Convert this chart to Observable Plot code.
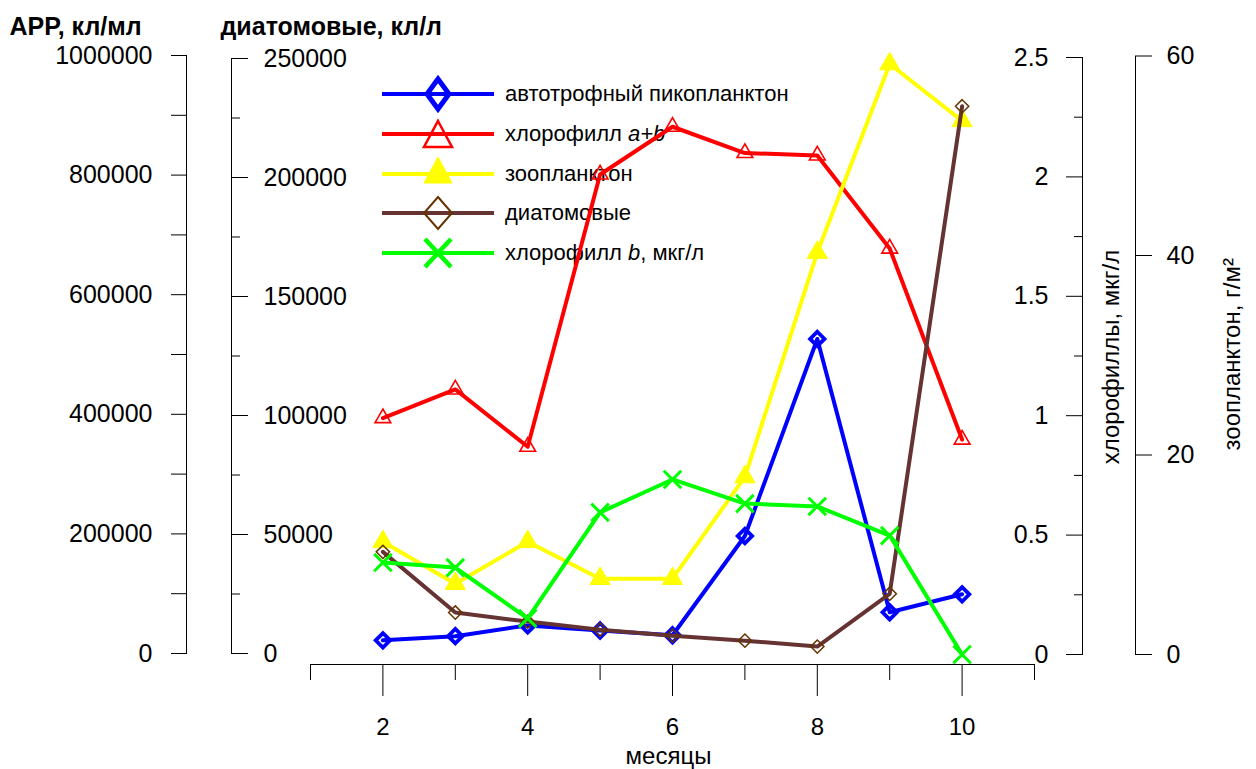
<!DOCTYPE html>
<html>
<head>
<meta charset="utf-8">
<script src="https://cdn.jsdelivr.net/npm/d3@7"></script>
<script src="https://cdn.jsdelivr.net/npm/@observablehq/plot@0.6"></script>
<style>
  body { margin: 0; background: #fff; font-family: "Liberation Sans", Arial, sans-serif; }
  #chart { position: relative; width: 1256px; height: 769px; overflow: hidden; }
  #chart svg.plot-layer { position: absolute; left: 0; top: 0; }
  .legend-row { position: absolute; left: 382px; height: 40px; display: flex; align-items: center; }
  .legend-row svg { display: block; }
  .legend-row span { margin-left: 11px; font-size: 22px; color: #000; white-space: nowrap; }
</style>
</head>
<body>
<div id="chart"></div>
<script>
// Monthly observations (months 2–10)
const months = [2, 3, 4, 5, 6, 7, 8, 9, 10];
const picoplankton = [22000, 29000, 47000, 38500, 30500, 196500, 526000, 69000, 99000]; // APP, кл/мл
const chlorophyllAB = [0.99, 1.11, 0.87, 2.01, 2.21, 2.10, 2.09, 1.70, 0.90];          // мкг/л
const zooplankton = [11.3, 7.1, 11.3, 7.6, 7.6, 17.8, 40.3, 59.2, 53.5];                // г/м²
const diatoms = [42700, 17200, 13400, 10000, 7500, 5400, 2900, 25100, 229900];          // кл/л
const chlorophyllB = [0.385, 0.364, 0.151, 0.595, 0.733, 0.632, 0.62, 0.498, 0.0];      // мкг/л

// Axis ticks
const monthMajor = [2, 4, 6, 8, 10];
const monthMinor = [1, 3, 5, 7, 9, 11];
const appTicks = [0, 200000, 400000, 600000, 800000, 1000000];
const appMinor = [100000, 300000, 500000, 700000, 900000];
const diatomTicks = [0, 50000, 100000, 150000, 200000, 250000];
const diatomMinor = [25000, 75000, 125000, 175000, 225000];
const chlTicks = [0, 0.5, 1, 1.5, 2, 2.5];
const chlMinor = [0.25, 0.75, 1.25, 1.75, 2.25];
const zooTicks = [0, 20, 40, 60];

// Labels
const xTitle = "месяцы";
const appTitle = "APP, кл/мл";
const diatomTitle = "диатомовые, кл/л";
const chlTitle = "хлорофиллы, мкг/л";
const zooTitle = "зоопланктон, г/м²";

const W = 1256, H = 769;
const X = {domain: [1, 11], range: [310, 1034]};
const FONT = "'Liberation Sans', Arial, sans-serif";
const chart = document.getElementById("chart");
const num = (d) => String(d);
const blank = () => "";
const rows = (values) => months.map((month, i) => ({month, value: values[i]}));

function layer({y, marks, ...margins}) {
  const opts = {
    width: W, height: H, ...margins,
    x: {...X, axis: null, label: null},
    style: {fontFamily: FONT, fontSize: "25px", background: "transparent", color: "#000", overflow: "visible"},
    marks
  };
  if (y) opts.y = {...y, axis: null, label: null};
  const svg = Plot.plot(opts);
  svg.classList.add("plot-layer");
  chart.append(svg);
}

function series(values, lineColor, dot) {
  const data = rows(values);
  return [
    Plot.line(data, {x: "month", y: "value", stroke: lineColor, strokeWidth: 4, strokeLinejoin: "round", strokeLinecap: "round"}),
    Plot.dot(data, {x: "month", y: "value", ...dot})
  ];
}

// Legend (drawn beneath the plotted lines)
const legendItems = [
  {html: "автотрофный пикопланктон", line: "#0000ff",
   marker: '<path d="M0,-15L11,0L0,15L-11,0Z" fill="none" stroke="#0000ff" stroke-width="5" stroke-linejoin="miter"/>'},
  {html: "хлорофилл <i>a+b</i>", line: "#ff0000",
   marker: '<path d="M0,-13L14,13L-14,13Z" fill="none" stroke="#ff0000" stroke-width="2.5"/>'},
  {html: "зоопланктон", line: "#ffff00",
   marker: '<path d="M0,-17L14,9L-14,9Z" fill="#ffff00" stroke="#ffff00" stroke-width="1"/>'},
  {html: "диатомовые", line: "#663333",
   marker: '<path d="M0,-16L14,0L0,16L-14,0Z" fill="none" stroke="#663300" stroke-width="2"/>'},
  {html: "хлорофилл <i>b</i>, мкг/л", line: "#00ff00",
   marker: '<path d="M-13,-14L13,14M13,-14L-13,14" fill="none" stroke="#00ff00" stroke-width="4.5"/>'}
];
const legendTop = 94, legendStep = 39.8;
legendItems.forEach((item, i) => {
  const row = document.createElement("div");
  row.className = "legend-row";
  row.style.top = (legendTop + i * legendStep - 20) + "px";
  row.innerHTML =
    `<svg width="112" height="40" viewBox="0 0 112 40">` +
    `<line x1="0" x2="112" y1="20" y2="20" stroke="${item.line}" stroke-width="4" stroke-linecap="round"/>` +
    `<g transform="translate(56,20)">${item.marker}</g></svg>` +
    `<span>${item.html}</span>`;
  chart.append(row);
});

// Month axis, offset below the data area
layer({
  marginLeft: 310, marginRight: 222, marginTop: 55, marginBottom: 105,
  marks: [
    Plot.frame({anchor: "bottom"}),
    Plot.axisX(monthMinor, {anchor: "bottom", tickSize: 16, tickFormat: blank, label: null}),
    Plot.axisX(monthMajor, {anchor: "bottom", tickSize: 32, tickPadding: 21, tickFormat: num, label: null, fontSize: 24}),
    Plot.text([xTitle], {frameAnchor: "bottom", textAnchor: "middle", dx: -4, dy: 92, lineAnchor: "middle", fontSize: 24})
  ]
});

// Autotrophic picoplankton on the outer left axis
layer({
  marginLeft: 186, marginRight: 222, marginTop: 55, marginBottom: 116,
  y: {domain: [0, 1000000]},
  marks: [
    Plot.frame({anchor: "left"}),
    Plot.axisY(appMinor, {anchor: "left", tickSize: 15, tickFormat: blank, label: null}),
    Plot.axisY(appTicks, {anchor: "left", tickSize: 15, tickPadding: 19, tickFormat: num, label: null}),
    Plot.text([appTitle], {frameAnchor: "top-left", textAnchor: "start", lineAnchor: "middle", dx: -177, dy: -29, fontWeight: "bold", fontSize: 25}),
    ...series(picoplankton, "#0000ff", {symbol: "diamond2", r: 6.5, stroke: "#0000ff", strokeWidth: 3.8, fill: "none"})
  ]
});

// Chlorophyll a+b on the inner right axis
layer({
  marginLeft: 1082, marginRight: 0, marginTop: 57, marginBottom: 115,
  y: {domain: [0, 2.5]},
  marks: [
    Plot.frame({anchor: "left"}),
    Plot.axisY(chlMinor, {anchor: "left", tickSize: 8, tickFormat: blank, label: null}),
    Plot.axisY(chlTicks, {anchor: "left", tickSize: 16, tickPadding: 18, tickFormat: num, label: null}),
    Plot.text([chlTitle], {frameAnchor: "left", textAnchor: "middle", lineAnchor: "middle", rotate: -90, dx: 29, dy: 1, fontSize: 24}),
    ...series(chlorophyllAB, "#ff0000", {symbol: "triangle2", r: 7.5, stroke: "#ff0000", strokeWidth: 1.6, fill: "none"})
  ]
});

// Zooplankton on the outer right axis
layer({
  marginLeft: 0, marginRight: 121, marginTop: 55.5, marginBottom: 115,
  y: {domain: [0, 60]},
  marks: [
    Plot.frame({anchor: "right"}),
    Plot.axisY(zooTicks, {anchor: "right", tickSize: 16, tickPadding: 15, tickFormat: num, label: null}),
    Plot.text([zooTitle], {frameAnchor: "right", textAnchor: "middle", lineAnchor: "middle", rotate: -90, dx: 97, dy: -1, fontSize: 24}),
    ...series(zooplankton, "#ffff00", {symbol: "triangle", r: 7.5, fill: "#ffff00", stroke: "#ffff00", strokeWidth: 1})
  ]
});

// Diatoms on the inner left axis
layer({
  marginLeft: 0, marginRight: 1025, marginTop: 58, marginBottom: 116,
  y: {domain: [0, 250000]},
  marks: [
    Plot.frame({anchor: "right"}),
    Plot.axisY(diatomMinor, {anchor: "right", tickSize: 8, tickFormat: blank, label: null}),
    Plot.axisY(diatomTicks, {anchor: "right", tickSize: 16, tickPadding: 16, tickFormat: num, label: null}),
    Plot.text([diatomTitle], {frameAnchor: "top-right", textAnchor: "start", lineAnchor: "middle", dx: -11, dy: -32, fontWeight: "bold", fontSize: 25}),
    ...series(diatoms, "#663333", {symbol: "diamond2", r: 6, stroke: "#663300", strokeWidth: 1.5, fill: "none"})
  ]
});

// Chlorophyll b shares the chlorophyll axis
layer({
  marginLeft: 1082, marginRight: 0, marginTop: 57, marginBottom: 115,
  y: {domain: [0, 2.5]},
  marks: [
    ...series(chlorophyllB, "#00ff00", {symbol: "times", r: 8, stroke: "#00ff00", strokeWidth: 3, fill: "none"})
  ]
});
</script>
</body>
</html>
